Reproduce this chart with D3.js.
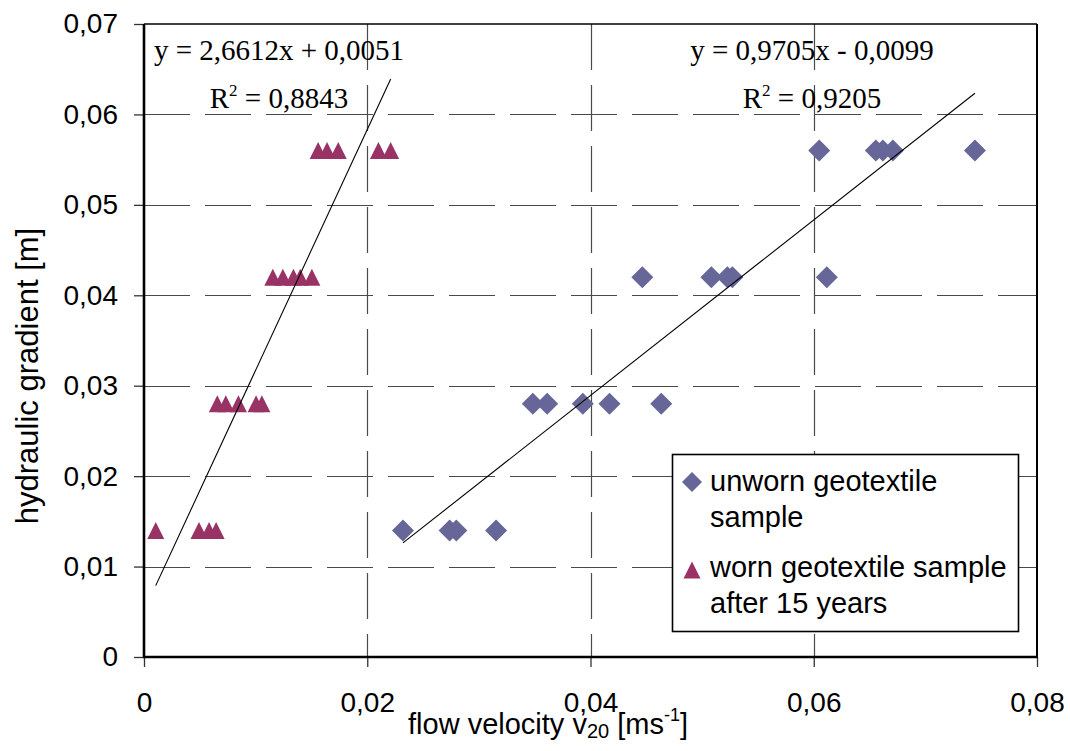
<!DOCTYPE html>
<html lang="en">
<head>
<meta charset="UTF-8">
<title>hydraulic gradient vs flow velocity</title>
<script src="https://cdn.jsdelivr.net/npm/d3@7"></script>
<style>
    body{
        margin: 0;
        background: white;
    }
    svg{
        display: block;
        background: white;
    }
    .tick text{
        font-family: "Liberation Sans", Arial, sans-serif;
        font-size: 28px;
        fill: black;
    }
    .eq{
        font-family: "Liberation Serif", "Times New Roman", serif;
        font-size: 29px;
        fill: black;
    }
    .lab{
        font-family: "Liberation Sans", Arial, sans-serif;
        fill: black;
    }
</style>
</head>
<body>
<svg></svg>
<script>
    const gradientLevels = [0.014, 0.028, 0.042, 0.056];

    // worn geotextile sample after 15 years (triangles)
    const wornX = [0.00105, 0.00493, 0.00583, 0.00646,
                   0.00657, 0.00733, 0.00846, 0.01004, 0.01056,
                   0.01154, 0.01244, 0.01339, 0.01400, 0.01504,
                   0.01560, 0.01640, 0.01740, 0.02100, 0.02210];
    const wornY = [0.014, 0.014, 0.014, 0.014,
                   0.028, 0.028, 0.028, 0.028, 0.028,
                   0.042, 0.042, 0.042, 0.042, 0.042,
                   0.056, 0.056, 0.056, 0.056, 0.056];

    // unworn geotextile sample (diamonds)
    const unwornX = [0.02320, 0.02738, 0.02798, 0.03154,
                     0.03483, 0.03612, 0.03931, 0.04170, 0.04634,
                     0.04464, 0.05083, 0.05226, 0.05271, 0.06117,
                     0.06049, 0.06556, 0.06619, 0.06709, 0.07444];
    const unwornY = [0.014, 0.014, 0.014, 0.014,
                     0.028, 0.028, 0.028, 0.028, 0.028,
                     0.042, 0.042, 0.042, 0.042, 0.042,
                     0.056, 0.056, 0.056, 0.056, 0.056];

    // trend lines as printed on the chart
    const wornFit = {slope: 2.6612, intercept: 0.0051, label: "y = 2,6612x + 0,0051", r2: "0,8843"};
    const unwornFit = {slope: 0.9705, intercept: -0.0099, label: "y = 0,9705x - 0,0099", r2: "0,9205"};

    const xTicks = [0, 0.02, 0.04, 0.06, 0.08];
    const yTicks = [0, 0.01, 0.02, 0.03, 0.04, 0.05, 0.06, 0.07];
    const legendLabels = [["unworn geotextile", "sample"], ["worn geotextile sample", "after 15 years"]];

    const width = 1070;
    const height = 751;
    const wornColor = "#993366";
    const unwornColor = "#666699";

    const svg = d3.select("svg")
        .attr("width", width)
        .attr("height", height);

    const x = d3.scaleLinear().domain([0, 0.08]).range([144, 1037]);
    const y = d3.scaleLinear().domain([0, 0.07]).range([657, 24]);

    // comma as decimal separator
    const fmt = d3.formatLocale({decimal: ",", thousands: ".", grouping: [3], currency: ["", ""]}).format(".2f");
    const tickFmt = d => d === 0 ? "0" : fmt(d);

    // dashed grid
    svg.append("g")
        .selectAll("line")
        .data(yTicks.filter(d => d > 0 && d < 0.07))
        .join("line")
        .attr("x1", x(0)).attr("x2", x(0.08))
        .attr("y1", d => Math.round(y(d)) + 0.5).attr("y2", d => Math.round(y(d)) + 0.5)
        .attr("stroke", "#4a4a4a")
        .attr("stroke-width", 1.2)
        .attr("stroke-dasharray", "46,15");

    svg.append("g")
        .selectAll("line")
        .data(xTicks.filter(d => d > 0 && d < 0.08))
        .join("line")
        .attr("x1", d => Math.round(x(d)) + 0.5).attr("x2", d => Math.round(x(d)) + 0.5)
        .attr("y1", y(0.07)).attr("y2", y(0))
        .attr("stroke", "#4a4a4a")
        .attr("stroke-width", 1.2)
        .attr("stroke-dasharray", "46,15");

    // axes
    svg.append("g")
        .attr("transform", `translate(0,${y(0)})`)
        .call(d3.axisBottom(x).tickValues(xTicks).tickFormat(tickFmt).tickSize(10).tickPadding(25))
        .call(g => g.select(".domain").remove())
        .call(g => g.selectAll(".tick line").attr("stroke", "#333").attr("stroke-width", 1.3));

    svg.append("g")
        .attr("transform", `translate(${x(0)},0)`)
        .call(d3.axisLeft(y).tickValues(yTicks).tickFormat(tickFmt).tickSize(10).tickPadding(16))
        .call(g => g.select(".domain").remove())
        .call(g => g.selectAll(".tick line").attr("stroke", "#333").attr("stroke-width", 1.3));

    // frame
    svg.append("line").attr("x1", x(0)).attr("x2", x(0.08)).attr("y1", y(0.07)).attr("y2", y(0.07))
        .attr("stroke", "black").attr("stroke-width", 1.6);
    svg.append("line").attr("x1", x(0.08)).attr("x2", x(0.08)).attr("y1", y(0.07)).attr("y2", y(0))
        .attr("stroke", "black").attr("stroke-width", 2);
    svg.append("line").attr("x1", x(0)).attr("x2", x(0)).attr("y1", y(0.07)).attr("y2", y(0) + 1)
        .attr("stroke", "black").attr("stroke-width", 2.6);
    svg.append("line").attr("x1", x(0) - 1).attr("x2", x(0.08) + 1).attr("y1", y(0)).attr("y2", y(0))
        .attr("stroke", "black").attr("stroke-width", 2.6);

    // markers
    const diamond = s => `M0,${-s}L${s},0L0,${s}L${-s},0Z`;
    const triangle = (w, h) => `M0,${-h / 2}L${w / 2},${h / 2}L${-w / 2},${h / 2}Z`;

    const worn = wornX.map((d, i) => ({x: d, y: wornY[i]}));
    const unworn = unwornX.map((d, i) => ({x: d, y: unwornY[i]}));

    svg.append("g")
        .selectAll("path")
        .data(unworn)
        .join("path")
        .attr("transform", d => `translate(${x(d.x)},${y(d.y)})`)
        .attr("d", diamond(11))
        .attr("fill", unwornColor);

    svg.append("g")
        .selectAll("path")
        .data(worn)
        .join("path")
        .attr("transform", d => `translate(${x(d.x)},${y(d.y)})`)
        .attr("d", triangle(17, 17))
        .attr("fill", wornColor);

    // trend lines over the data extent
    function trend(data, fit){
        const ext = d3.extent(data, d => d.x);
        svg.append("line")
            .attr("x1", x(ext[0])).attr("y1", y(fit.slope * ext[0] + fit.intercept))
            .attr("x2", x(ext[1])).attr("y2", y(fit.slope * ext[1] + fit.intercept))
            .attr("stroke", "black")
            .attr("stroke-width", 1.1);
    }
    trend(worn, wornFit);
    trend(unworn, unwornFit);

    // equation labels
    function equation(fit, cx){
        svg.append("text").attr("class", "eq")
            .attr("x", cx).attr("y", 60)
            .attr("text-anchor", "middle")
            .text(fit.label);
        const t = svg.append("text").attr("class", "eq")
            .attr("x", cx).attr("y", 108)
            .attr("text-anchor", "middle");
        t.append("tspan").text("R");
        t.append("tspan").attr("dy", -12).attr("font-size", 17).text("2");
        t.append("tspan").attr("dy", 12).text(" = " + fit.r2);
    }
    equation(wornFit, 279);
    equation(unwornFit, 812);

    // axis titles
    const xt = svg.append("text").attr("class", "lab")
        .attr("x", 408).attr("y", 734)
        .attr("font-size", 29);
    xt.append("tspan").text("flow velocity v");
    xt.append("tspan").attr("dy", 4).attr("font-size", 20).text("20");
    xt.append("tspan").attr("dy", -4).text(" [ms");
    xt.append("tspan").attr("dy", -13).attr("font-size", 18).text("-1");
    xt.append("tspan").attr("dy", 13).text("]");

    svg.append("text").attr("class", "lab")
        .attr("transform", "translate(38,376) rotate(-90)")
        .attr("text-anchor", "middle")
        .attr("font-size", 31)
        .text("hydraulic gradient [m]");

    // legend
    const legend = svg.append("g");
    legend.append("rect")
        .attr("x", 672.5).attr("y", 454.5)
        .attr("width", 346).attr("height", 177)
        .attr("fill", "white")
        .attr("stroke", "black")
        .attr("stroke-width", 1.6);

    legend.append("path")
        .attr("transform", "translate(692,482)")
        .attr("d", diamond(10))
        .attr("fill", unwornColor);
    legend.append("path")
        .attr("transform", "translate(692,570)")
        .attr("d", triangle(17, 17))
        .attr("fill", wornColor);

    const legendBase = [491, 577];
    legendLabels.forEach((lines, i) => {
        lines.forEach((s, j) => {
            legend.append("text").attr("class", "lab")
                .attr("x", 710).attr("y", legendBase[i] + j * 36)
                .attr("font-size", 29)
                .text(s);
        });
    });
</script>
</body>
</html>
